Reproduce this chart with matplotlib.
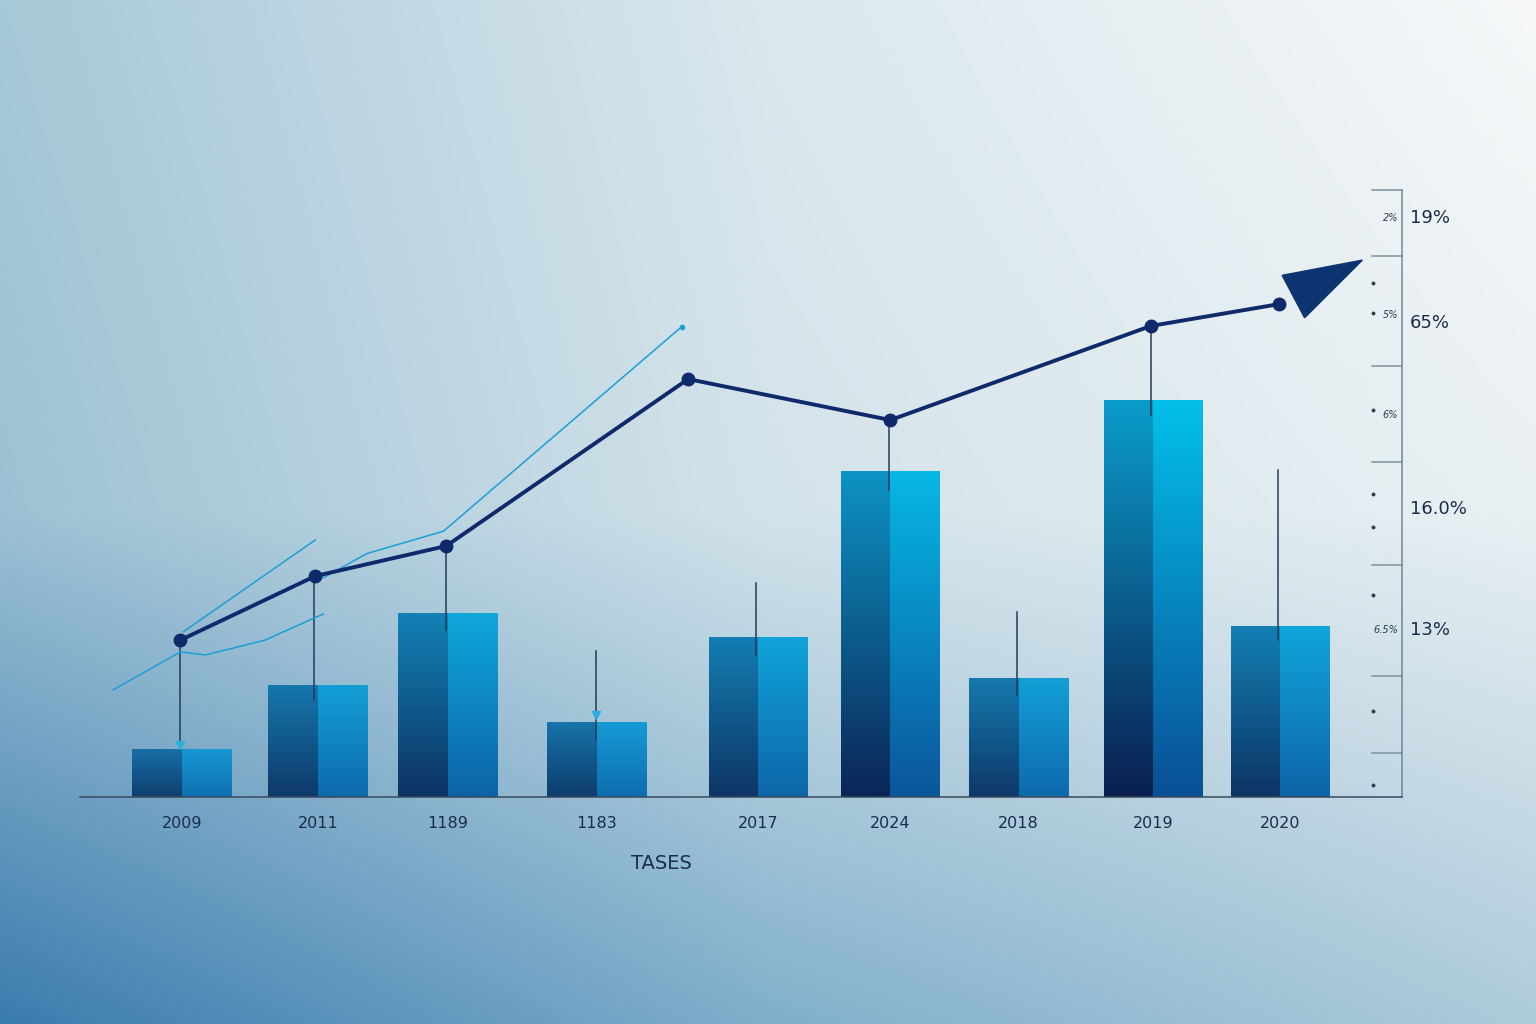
"""Bar + trend line chart on a soft blue gradient background."""

import matplotlib
matplotlib.use("Agg")

import matplotlib.pyplot as plt
import numpy as np
from matplotlib.colors import to_rgb
from matplotlib.patches import Polygon

plt.rcParams["font.family"] = ["DejaVu Sans"]

# ---- data -------------------------------------------------------------
year_labels = ["2009", "2011", "1189", "1183", "2017", "2024", "2018", "2019", "2020"]
bar_pos = [0.77, 1.80, 2.78, 3.91, 5.13, 6.13, 7.10, 8.12, 9.08]
bar_values = [1.58, 3.66, 6.06, 2.44, 5.24, 10.74, 3.89, 13.08, 5.63]

line_x = [0.76, 1.78, 2.77, 4.60, 6.13, 8.10, 9.07]
line_y = [5.17, 7.28, 8.27, 13.77, 12.42, 15.52, 16.24]
arrow_tip = (9.70, 17.69)

stem_x = [0.76, 1.77, 2.77, 3.90, 5.11, 6.12, 7.09, 8.10, 9.06]
stem_top = [5.17, 7.28, 8.27, 4.81, 7.05, 12.42, 6.10, 15.52, 10.77]
stem_bottom = [1.71, 3.20, 5.50, 1.88, 4.68, 10.12, 3.36, 12.59, 5.17]

thin_a_x = [0.25, 0.76, 0.95, 1.40, 1.84]
thin_a_y = [3.53, 4.78, 4.68, 5.17, 6.03]
thin_b_x = [0.78, 1.78]
thin_b_y = [5.44, 8.47]
thin_c_x = [1.84, 2.17, 2.75, 4.55]
thin_c_y = [7.22, 8.02, 8.76, 15.49]

right_major = [20.0, 17.83, 14.2, 11.04, 7.64, 3.99, 1.45]
right_dots = [16.94, 15.95, 12.75, 9.98, 8.90, 6.66, 2.83, 0.40]
minor_labels = ["2%", "5%", "6%", "6.5%"]
minor_label_y = [19.08, 15.88, 12.59, 5.50]
right_labels = ["19%", "65%", "16.0%", "13%"]
right_label_y = [19.08, 15.62, 9.49, 5.50]
x_title = "TASES"

# ---- figure -----------------------------------------------------------
fig = plt.figure(figsize=(15.36, 10.24), dpi=100)

# background gradient (bilinear over a 3x3 colour grid)
grid = np.array([
    [to_rgb("#a7c8d8"), to_rgb("#dbe8ee"), to_rgb("#f6f8f9")],
    [to_rgb("#9dc1d4"), to_rgb("#d3e3ea"), to_rgb("#e9f0f3")],
    [to_rgb("#3b7cae"), to_rgb("#80afcb"), to_rgb("#aecbdb")],
])
H, W = 256, 384
v = np.linspace(0, 2, H)[:, None]
u = np.linspace(0, 2, W)[None, :]
vi = np.clip(np.floor(v).astype(int), 0, 1)
ui = np.clip(np.floor(u).astype(int), 0, 1)
fv = (v - vi)[..., None]
fu = (u - ui)[..., None]
vi = np.broadcast_to(vi, (H, W))
ui = np.broadcast_to(ui, (H, W))
c00 = grid[vi, ui]
c01 = grid[vi, ui + 1]
c10 = grid[vi + 1, ui]
c11 = grid[vi + 1, ui + 1]
bg = (c00 * (1 - fu) + c01 * fu) * (1 - fv) + (c10 * (1 - fu) + c11 * fu) * fv
bg_ax = fig.add_axes([0, 0, 1, 1], zorder=-1)
bg_ax.imshow(bg, aspect="auto", interpolation="bicubic", extent=[0, 1, 0, 1])
bg_ax.axis("off")

ax = fig.add_axes([80 / 1536, 227 / 1024, 1322 / 1536, 607 / 1024])
ax.set_facecolor("none")
ax.set_xlim(0, 10)
ax.set_ylim(0, 20)


def lerp(c1, c2, t):
    a, b = np.array(to_rgb(c1)), np.array(to_rgb(c2))
    return a + (b - a) * t


def gradient(bottom, top, n=200):
    t = np.linspace(1, 0, n)[:, None, None]
    return np.array(bottom)[None, None, :] * (1 - t) + np.array(top)[None, None, :] * t


bar_w = 0.75
hmax = max(bar_values)
for x, h in zip(bar_pos, bar_values):
    k = h / hmax
    left = gradient(lerp("#0f4373", "#0a1f50", k), lerp("#1a6aa2", "#0a9ccb", k))
    right = gradient(lerp("#0f74b4", "#0a4f95", k), lerp("#1a92cf", "#03c0ea", k))
    ax.imshow(left, aspect="auto", extent=[x - bar_w / 2, x, 0, h], zorder=2)
    ax.imshow(right, aspect="auto", extent=[x, x + bar_w / 2, 0, h], zorder=2)
ax.set_xlim(0, 10)
ax.set_ylim(0, 20)

# stems
for x, t, b in zip(stem_x, stem_top, stem_bottom):
    ax.plot([x, x], [b, t], color="#243b5a", lw=1.1, zorder=3)
ax.plot([stem_x[0], stem_x[3]], [stem_bottom[0], 2.70], ls="none", marker="v",
        ms=6, color="#2aaee0", zorder=4)

# thin light-blue lines
for xs, ys in [(thin_a_x, thin_a_y), (thin_b_x, thin_b_y), (thin_c_x, thin_c_y)]:
    ax.plot(xs, ys, color="#1c9fd6", lw=1.1, zorder=3, clip_on=False)
ax.plot(thin_c_x[-1], thin_c_y[-1], "o", ms=3, color="#1c9fd6", zorder=3)

# main trend line
navy = "#0f2a6a"
ax.plot(line_x, line_y, color=navy, lw=2.8, marker="o", ms=9, zorder=5,
        solid_capstyle="round")

# arrow head computed in display space
fig.canvas.draw()
p_last = ax.transData.transform((line_x[-1], line_y[-1]))
p_tip = ax.transData.transform(arrow_tip)
d = p_tip - p_last
d = d / np.hypot(*d)
n = np.array([-d[1], d[0]])
base = p_tip - d * 78
tri_disp = [p_tip, base + n * 24, base - n * 24]
tri = ax.transData.inverted().transform(tri_disp)
ax.add_patch(Polygon(tri, closed=True, color="#0d3470", zorder=6, clip_on=False))

# spines
for s in ["top", "left"]:
    ax.spines[s].set_visible(False)
ax.spines["bottom"].set_color("#3a4a5c")
ax.spines["bottom"].set_linewidth(1.1)
ax.spines["right"].set_color("#6f8797")
ax.spines["right"].set_linewidth(1.1)

ax.set_xticks(bar_pos)
ax.set_xticklabels(year_labels, fontsize=11.5, color="#1b2c4c")
ax.tick_params(axis="x", length=0, pad=14)
ax.set_yticks([])

for y in right_major:
    ax.plot([9.77, 10.0], [y, y], color="#7d92a0", lw=1.1, zorder=2, clip_on=False)
ax.plot([9.78] * len(right_dots), right_dots, ls="none", marker="o", ms=1.8,
        color="#2c3e50", zorder=2)
for lab, y in zip(minor_labels, minor_label_y):
    ax.text(9.97, y, lab, fontsize=7, color="#2c3e55", ha="right", va="center",
            style="italic")
for lab, y in zip(right_labels, right_label_y):
    ax.text(10.06, y, lab, fontsize=13, color="#1b2c4c", ha="left", va="center")

ax.text(4.40, -2.2, x_title, fontsize=14, color="#1b2c4c", ha="center", va="center")

fig.savefig("out.png", dpi=100)
